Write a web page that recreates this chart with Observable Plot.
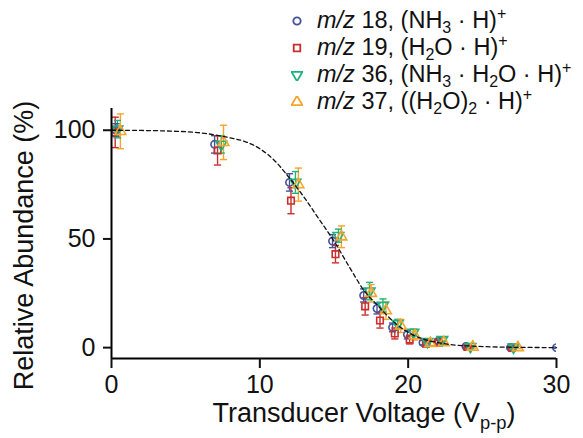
<!DOCTYPE html>
<html><head><meta charset="utf-8">
<script src="https://cdn.jsdelivr.net/npm/d3@7"></script>
<script src="https://cdn.jsdelivr.net/npm/@observablehq/plot@0.6"></script>
<style>
body{margin:0;background:#fff;}
#wrap{position:relative;width:583px;height:438px;font-family:"Liberation Sans",Arial,sans-serif;}
#legend{position:absolute;left:291px;top:7px;font-size:23.5px;line-height:1;color:#111;}
.row{height:27px;display:flex;align-items:center;white-space:nowrap}
.row svg{margin-right:14px;flex:none}
sub,sup{font-size:16px;line-height:0}
sub{vertical-align:-5px}
sup{vertical-align:9px}
</style></head><body><div id="wrap"><div id="legend"></div></div>
<script>
// ---- data ----
const seriesNames = ["m/z 18", "m/z 19", "m/z 36", "m/z 37"];
const legendLabels = [
  "*m/z* 18, (NH_{3} · H)^{+}",
  "*m/z* 19, (H_{2}O · H)^{+}",
  "*m/z* 36, (NH_{3} · H_{2}O · H)^{+}",
  "*m/z* 37, ((H_{2}O)_{2} · H)^{+}"
];
const seriesColors = ["#46549c", "#c92f2c", "#1fb37c", "#f5a52d"];

const voltage18 = [0.3, 6.95, 12.0, 14.9, 17.0, 17.9, 18.95, 19.95, 21.0, 22.0, 23.9, 26.9, 30.0];
const abundance18 = [100, 93.5, 76, 49, 24, 18, 9.3, 6, 2.3, 2.8, 0.5, 0, 0];
const error18 = [3, 4, 4, 3, 3, 2.5, 2, 2, 1, 1, 0.5, 0.5, 0.3];

const voltage19 = [0.25, 7.15, 12.1, 15.1, 17.1, 18.1, 19.1, 20.1, 21.2, 22.05, 24.0, 27.0];
const abundance19 = [99, 90.7, 67.6, 43, 19, 12.5, 6.5, 3.7, 1.8, 2.3, 0.3, 0];
const error19 = [7, 6.7, 6, 4, 4, 3.5, 2.5, 2, 1, 1, 0.5, 0.5];

const voltage36 = [0.4, 7.4, 12.4, 15.3, 17.4, 18.3, 19.3, 20.35, 21.3, 22.3, 24.2, 27.1];
const abundance36 = [100.5, 93.5, 76, 51.5, 26, 19.4, 11, 7, 2.8, 3.7, 0.5, 0.2];
const error36 = [4, 4, 5, 3, 4, 3, 2, 1.5, 1, 1, 0.5, 0.5];

const voltage37 = [0.6, 7.55, 12.6, 15.5, 17.5, 18.5, 19.5, 20.45, 21.5, 22.4, 24.35, 27.4];
const abundance37 = [99.5, 94.4, 75, 51, 25, 17, 10, 5.5, 2, 2.3, 0.3, 0];
const error37 = [8, 7.9, 7.6, 5, 4, 4, 3, 2, 1, 1, 0.5, 0.5];

const fitVoltage = [0, 2, 4, 6, 8, 9, 10, 11, 12, 13, 14, 15, 16, 17, 18, 19, 20, 21, 22, 23, 24, 26, 28, 30];
const fitAbundance = [100, 99.9, 99.6, 98.8, 96.5, 94.8, 91.5, 86, 78, 69, 59, 49, 37.5, 26.5, 19, 12, 7, 4, 2.3, 1.3, 0.8, 0.3, 0.1, 0];

const xTicks = [0, 10, 20, 30];
const yTicks = [0, 50, 100];
const xTitle = "Transducer Voltage (V_{p-p})";
const yTitle = "Relative Abundance (%)";

// ---- build tables ----
const seriesData = [
  [voltage18, abundance18, error18],
  [voltage19, abundance19, error19],
  [voltage36, abundance36, error36],
  [voltage37, abundance37, error37]
];
const rows = seriesData.flatMap(([xs, ys, es], i) =>
  xs.map((x, j) => ({series: seriesNames[i], x, y: ys[j], e: es[j]})));
const fit = fitVoltage.map((x, i) => ({x, y: fitAbundance[i]}));

const capSymbol = {draw(ctx, size) { const r = Math.sqrt(size / Math.PI); ctx.moveTo(-r, 0); ctx.lineTo(r, 0); }};
const symbols = ["circle", "square", "triangle", "triangle"];
const rotations = [0, 0, 180, 0];
const radii = [3.7, 3.7, 4.0, 4.0];

const dotMarks = seriesNames.map((s, i) =>
  Plot.dot(rows.filter(d => d.series === s), {
    x: "x", y: "y", symbol: () => symbols[i], rotate: rotations[i], r: radii[i],
    stroke: seriesColors[i], strokeWidth: 1.6, fill: "none", clip: true
  }));

const chart = Plot.plot({
  width: 583, height: 438,
  marginLeft: 111, marginRight: 27, marginTop: 108, marginBottom: 80,
  style: {fontFamily: '"Liberation Sans", Arial, sans-serif', fontSize: "25px", background: "white", color: "#111"},
  x: {domain: [0, 30]},
  y: {domain: [-5, 110]},
  color: {domain: seriesNames, range: seriesColors},
  symbol: {domain: ["circle", "square", "triangle"], range: ["circle", "square", "triangle"]},
  marks: [
    Plot.ruleX(rows, {x: "x", y1: d => d.y - d.e, y2: d => d.y + d.e, stroke: "series", strokeWidth: 1.4, clip: true}),
    Plot.dot(rows, {x: "x", y: d => d.y - d.e, symbol: () => capSymbol, r: 3.6, stroke: "series", strokeWidth: 1.4, clip: true}),
    Plot.dot(rows, {x: "x", y: d => d.y + d.e, symbol: () => capSymbol, r: 3.6, stroke: "series", strokeWidth: 1.4, clip: true}),
    ...dotMarks,
    Plot.line(fit, {x: "x", y: "y", curve: "monotone-x", stroke: "#111", strokeWidth: 1.3, strokeDasharray: "4,3"}),
    Plot.ruleX([0], {stroke: "#000", strokeWidth: 2}),
    Plot.ruleY([-5], {stroke: "#000", strokeWidth: 2}),
    Plot.axisX({ticks: xTicks, tickSize: 10, tickPadding: 7, strokeWidth: 2, fontSize: 25, label: null}),
    Plot.axisY({ticks: yTicks, tickSize: 8, tickPadding: 8, strokeWidth: 2, fontSize: 25, label: null}),
    Plot.text([xTitle], {text: d => d, frameAnchor: "bottom", dx: 30, dy: 63, fontSize: 27, fill: "#111"}),
    Plot.text([yTitle], {text: d => d, frameAnchor: "left", textAnchor: "middle", dx: -87, dy: 12, rotate: -90, fontSize: 27, fill: "#111"})
  ]
});

// rich text: *italic*, _{sub}, ^{sup}
function tokens(str) {
  const out = []; const re = /\*([^*]+)\*|_\{([^}]*)\}|\^\{([^}]*)\}|([^*_^]+)/g; let m;
  while ((m = re.exec(str))) {
    if (m[1] != null) out.push({t: m[1], k: "i"});
    else if (m[2] != null) out.push({t: m[2], k: "sub"});
    else if (m[3] != null) out.push({t: m[3], k: "sup"});
    else out.push({t: m[4], k: "n"});
  }
  return out;
}
function richSVG(el, str, fs) {
  el.textContent = "";
  let shift = 0;
  for (const tk of tokens(str)) {
    const ts = document.createElementNS("http://www.w3.org/2000/svg", "tspan");
    let target = 0;
    if (tk.k === "sub") { target = 0.28 * fs; ts.setAttribute("font-size", 0.68 * fs); }
    if (tk.k === "sup") { target = -0.4 * fs; ts.setAttribute("font-size", 0.68 * fs); }
    if (tk.k === "i") ts.setAttribute("font-style", "italic");
    if (target !== shift) { ts.setAttribute("dy", target - shift); shift = target; }
    ts.textContent = tk.t;
    el.appendChild(ts);
  }
}
d3.select(chart).selectAll("text").each(function() {
  const s = this.textContent;
  if (/[_^*]/.test(s) && s.length > 3) richSVG(this, s, 27);
});

document.getElementById("wrap").prepend(chart);

// legend
function richHTML(str) {
  return tokens(str).map(tk => tk.k === "i" ? `<i>${tk.t}</i>` : tk.k === "sub" ? `<sub>${tk.t}</sub>` : tk.k === "sup" ? `<sup>${tk.t}</sup>` : tk.t).join("");
}
const legend = d3.select("#legend");
seriesNames.forEach((s, i) => {
  const row = legend.append("div").attr("class", "row");
  const sv = row.append("svg").attr("width", 12).attr("height", 12).attr("viewBox", "-6 -6 12 12");
  const sym = symbols[i] === "circle" ? d3.symbolCircle : symbols[i] === "square" ? d3.symbolSquare : d3.symbolTriangle;
  sv.append("path").attr("d", d3.symbol(sym, radii[i] * radii[i] * Math.PI)())
    .attr("transform", `rotate(${rotations[i]})`)
    .attr("fill", "none").attr("stroke", seriesColors[i]).attr("stroke-width", 1.8);
  row.append("span").html(richHTML(legendLabels[i]));
});
</script></body></html>
